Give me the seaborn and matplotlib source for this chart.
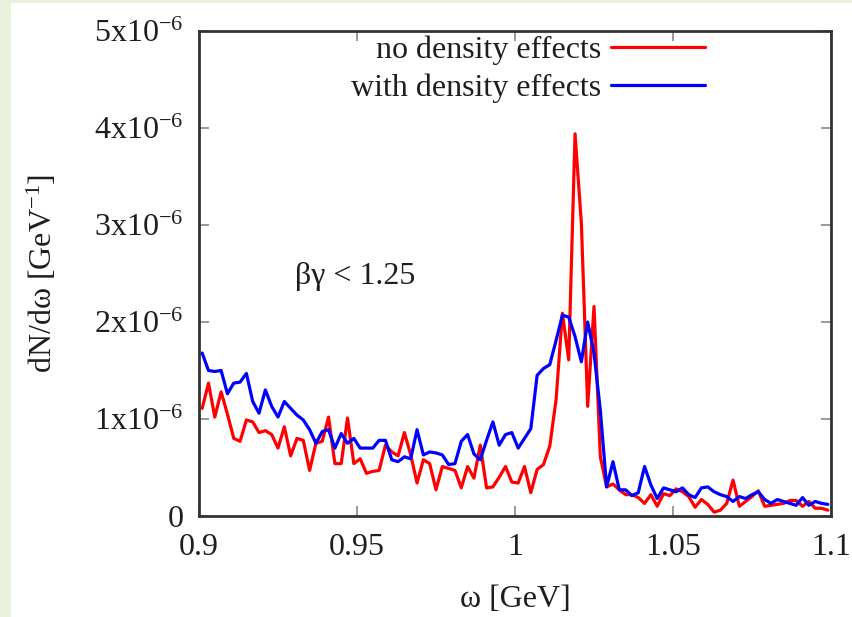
import numpy as np
import pandas as pd
import matplotlib
matplotlib.use("Agg")
import matplotlib.pyplot as plt
import seaborn as sns
from matplotlib.patches import Rectangle
from matplotlib.lines import Line2D

# ---- data (x = bin centres, y in units of 1e-6 GeV^-1) ----
omega = [round(0.901 + 0.002 * i, 3) for i in range(100)]

no_density = [
    1.11, 1.37, 1.02, 1.28, 1.05, 0.80, 0.77, 0.99, 0.97, 0.86,
    0.88, 0.84, 0.70, 0.92, 0.62, 0.80, 0.78, 0.47, 0.75, 0.77,
    1.02, 0.54, 0.54, 1.01, 0.54, 0.59, 0.44, 0.46, 0.47, 0.73,
    0.66, 0.62, 0.86, 0.63, 0.34, 0.58, 0.54, 0.27, 0.51, 0.49,
    0.47, 0.29, 0.51, 0.39, 0.73, 0.29, 0.30, 0.40, 0.51, 0.35,
    0.34, 0.51, 0.24, 0.48, 0.53, 0.72, 1.20, 2.09, 1.61, 3.94,
    3.02, 1.13, 2.16, 0.61, 0.30, 0.33, 0.27, 0.22, 0.22, 0.19,
    0.13, 0.22, 0.10, 0.23, 0.21, 0.28, 0.25, 0.20, 0.09, 0.17,
    0.12, 0.04, 0.06, 0.13, 0.37, 0.10, 0.15, 0.20, 0.26, 0.10,
    0.11, 0.12, 0.13, 0.16, 0.16, 0.10, 0.15, 0.08, 0.08, 0.06,
]

with_density = [
    1.68, 1.50, 1.49, 1.50, 1.26, 1.37, 1.38, 1.47, 1.18, 1.06,
    1.30, 1.13, 1.02, 1.18, 1.11, 1.04, 0.99, 0.89, 0.75, 0.87,
    0.89, 0.70, 0.85, 0.75, 0.80, 0.70, 0.70, 0.70, 0.78, 0.78,
    0.58, 0.56, 0.61, 0.59, 0.89, 0.63, 0.66, 0.65, 0.63, 0.53,
    0.54, 0.77, 0.84, 0.64, 0.58, 0.78, 0.97, 0.73, 0.84, 0.86,
    0.70, 0.80, 0.90, 1.45, 1.52, 1.56, 1.81, 2.07, 2.05, 1.85,
    1.59, 2.00, 1.68, 1.09, 0.30, 0.56, 0.27, 0.27, 0.21, 0.24,
    0.51, 0.32, 0.18, 0.29, 0.27, 0.25, 0.29, 0.22, 0.19, 0.29,
    0.30, 0.25, 0.22, 0.20, 0.15, 0.20, 0.18, 0.22, 0.25, 0.17,
    0.13, 0.17, 0.15, 0.13, 0.11, 0.19, 0.11, 0.15, 0.13, 0.12,
]

series_names = ["no density effects", "with density effects"]
series_colors = ["#ff0000", "#0000ff"]

x_ticks = [0.9, 0.95, 1.0, 1.05, 1.1]
x_tick_labels = ["0.9", "0.95", "1", "1.05", "1.1"]
y_ticks = [0, 1e-6, 2e-6, 3e-6, 4e-6, 5e-6]
y_tick_labels = ["0", "1x10$^{\\mathregular{-6}}$", "2x10$^{\\mathregular{-6}}$",
                 "3x10$^{\\mathregular{-6}}$", "4x10$^{\\mathregular{-6}}$",
                 "5x10$^{\\mathregular{-6}}$"]

annotation = "βγ < 1.25"
x_label = "ω [GeV]"
y_label = "dN/dω [GeV$^{\\mathregular{-1}}$]"

# ---- build long-form table ----
scale = 1e-6
df = pd.DataFrame({
    "omega": omega * 2,
    "value": [v * scale for v in no_density] + [v * scale for v in with_density],
    "series": [series_names[0]] * len(omega) + [series_names[1]] * len(omega),
})

sns.set_theme(style="white")
plt.rcParams["font.family"] = ["Liberation Serif", "DejaVu Serif"]
plt.rcParams["mathtext.fontset"] = "custom"
plt.rcParams["mathtext.rm"] = "Liberation Serif"
plt.rcParams["mathtext.it"] = "Liberation Serif:italic"
plt.rcParams["mathtext.bf"] = "Liberation Serif:bold"

FS = 23
TXT = "#1e1e1e"
fig = plt.figure(figsize=(8.52, 6.17), dpi=100, facecolor="white")
# light green screenshot border (left and top)
fig.patches.append(Rectangle((0, 0), 11 / 852, 1, transform=fig.transFigure,
                             facecolor="#e9f0dc", edgecolor="none", zorder=-10))
fig.patches.append(Rectangle((0, 1 - 3 / 617), 1, 3 / 617, transform=fig.transFigure,
                             facecolor="#e9f0dc", edgecolor="none", zorder=-10))

ax = fig.add_axes([199 / 852, 101 / 617, 632 / 852, 485 / 617])
ax.set_facecolor("white")

sns.lineplot(data=df, x="omega", y="value", hue="series",
             hue_order=series_names, palette=series_colors,
             linewidth=2.3, ax=ax, legend=False, estimator=None, sort=False)

ax.set_xlim(0.9, 1.1)
ax.set_ylim(0, 5e-6)
ax.set_xticks(x_ticks, x_tick_labels)
ax.set_yticks(y_ticks, y_tick_labels)
ax.tick_params(axis="both", which="both", direction="in", length=7, width=1.2,
               color="#888888", labelsize=FS, labelcolor=TXT,
               top=True, right=True, bottom=True, left=True)
ax.tick_params(axis="x", pad=12)
ax.tick_params(axis="y", pad=11)

for sp in ax.spines.values():
    sp.set_visible(True)
    sp.set_color("#333333")
    sp.set_linewidth(2.0)

ax.set_xlabel(x_label, fontsize=FS, color=TXT)
ax.set_ylabel(y_label, fontsize=FS, color=TXT)
ax.xaxis.set_label_coords(0.5, -0.142)
ax.yaxis.set_label_coords(-0.222, 0.5)

ax.text(0.9304, 2.47e-6, annotation, fontsize=FS, color=TXT,
        ha="left", va="center")

# legend: text first, handle on the right, rows right-aligned
handles = [Line2D([], [], color=c, linewidth=2.3) for c in series_colors]
leg = ax.legend(handles, series_names, loc="upper right",
                bbox_to_anchor=(0.801, 0.990), markerfirst=False,
                frameon=False, fontsize=FS, handlelength=2.95,
                handletextpad=0.31, labelspacing=0.25, borderpad=0,
                borderaxespad=0)
for t in leg.get_texts():
    t.set_color(TXT)

fig.savefig("out.png", dpi=100, facecolor=fig.get_facecolor())
